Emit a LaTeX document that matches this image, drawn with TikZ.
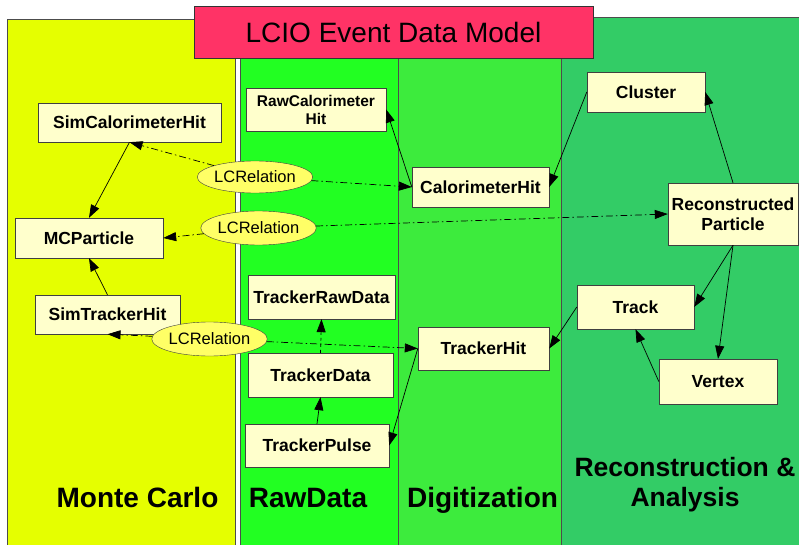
\documentclass[tikz,border=0pt]{standalone}
\usepackage{fontspec}
\setmainfont{Liberation Sans}
\usetikzlibrary{arrows.meta,shapes.geometric}
\definecolor{mcyellow}{HTML}{E5FF00}
\definecolor{rawgreen}{HTML}{22FF22}
\definecolor{digigreen}{HTML}{3DEB3D}
\definecolor{recogreen}{HTML}{33CC66}
\definecolor{titlepink}{HTML}{FF3366}
\definecolor{clsfill}{HTML}{FFFFCC}
\definecolor{relfill}{HTML}{FFFF66}
\begin{document}
\begin{tikzpicture}[x=1pt,y=-1pt,
  cls/.style={draw=black!75, fill=clsfill, inner sep=0pt, align=center,
    font=\fontsize{17.5}{20}\selectfont\bfseries},
  rel/.style={ellipse, draw=black!75, fill=relfill, inner sep=0pt,
    minimum width=93pt, minimum height=34pt, font=\fontsize{16.5}{18}\selectfont},
  arr/.style={-{Triangle[length=13pt,width=9pt]}, line width=0.7pt, black},
  lcr/.style={arr, dash pattern=on 7pt off 3pt on 1.5pt off 3pt},
  area/.style={font=\fontsize{28}{30}\selectfont\bfseries, align=center}
]
\useasboundingbox (0,0) rectangle (799,545);
% the four areas, cut at the bottom of the slide
\begin{scope}
\clip (0,0) rectangle (799,545);
\draw[black!70, fill=mcyellow] (7,19) rectangle (235,560);
\draw[black!70, fill=rawgreen] (240,17) rectangle (398,560);
\draw[black!70, fill=digigreen] (398,17) rectangle (561,560);
\draw[black!70, fill=recogreen] (561,17) rectangle (810,560);
\end{scope}
\node[draw=black!80, fill=titlepink, inner sep=0pt, minimum width=399pt, minimum height=52pt,
  font=\fontsize{28}{30}\selectfont] (title) at (393.5,32) {LCIO Event Data Model};

% Monte Carlo classes
\node[cls, minimum width=183pt, minimum height=39pt] (simcal) at (129.5,122.5) {SimCalorimeterHit};
\node[cls, minimum width=148pt, minimum height=40pt] (mcp) at (89,238) {MCParticle};
\node[cls, minimum width=145pt, minimum height=39pt] (simtrk) at (107.5,314.5) {SimTrackerHit};
% raw data classes
\node[cls, minimum width=140pt, minimum height=43pt, font=\fontsize{15.5}{18}\selectfont\bfseries]
  (rawcal) at (316,109.5) {RawCalorimeter\\Hit};
\node[cls, minimum width=147pt, minimum height=44pt] (trkraw) at (321.5,297) {TrackerRawData};
\node[cls, minimum width=145pt, minimum height=44pt] (trkdata) at (320.5,375) {TrackerData};
\node[cls, minimum width=144pt, minimum height=43pt] (trkpulse) at (317,445.5) {TrackerPulse};
% digitized hits
\node[cls, minimum width=137pt, minimum height=40pt] (calhit) at (480.5,187) {CalorimeterHit};
\node[cls, minimum width=131pt, minimum height=43pt] (trkhit) at (483.5,348.5) {TrackerHit};
% reconstruction classes
\node[cls, minimum width=118pt, minimum height=40pt] (cluster) at (646,92) {Cluster};
\node[cls, minimum width=130pt, minimum height=62pt] (recop) at (733,214) {Reconstructed\\Particle};
\node[cls, minimum width=117pt, minimum height=44pt] (track) at (635.5,307) {Track};
\node[cls, minimum width=118pt, minimum height=45pt] (vertex) at (718,381.5) {Vertex};
% relations
\node[rel, minimum width=94pt, minimum height=32pt] (rel1) at (255,177) {LCRelation};
\node[rel] (rel2) at (258.5,228) {LCRelation};
\node[rel] (rel3) at (209.5,339) {LCRelation};

% plain links
\draw[arr] (simcal.south) -- (mcp.north);
\draw[arr] (simtrk.north) -- (mcp.south);
\draw[arr] (calhit.west) -- (rawcal.east);
\draw[arr] (cluster.west) -- (calhit.east);
\draw[arr] (recop.north) -- (cluster.east);
\draw[arr] (recop.south) -- (track.east);
\draw[arr] (recop.south) -- (vertex.north);
\draw[arr] (vertex.west) -- (track.south);
\draw[arr] (track.west) -- (trkhit.east);
\draw[arr] (trkhit.west) -- (trkpulse.east);
\draw[arr] (trkpulse.north) -- (trkdata.south);
\draw[arr, dashed] (trkdata.north) -- (trkraw.south);
% links through LCRelation
\draw[lcr] (rel1) -- (simcal.south);
\draw[lcr] (rel1) -- (calhit.west);
\draw[lcr] (rel2) -- (mcp.east);
\draw[lcr] (rel2) -- (recop.west);
\draw[lcr] (rel3) -- (simtrk.south);
\draw[lcr] (rel3) -- (trkhit.west);

% area names
\node[area, anchor=base] (mclabel) at (137.5,507) {Monte Carlo};
\node[area, anchor=base] (rawlabel) at (308,507) {RawData};
\node[area, anchor=base] (digilabel) at (482.5,507) {Digitization};
\node[area, font=\fontsize{26.5}{30}\selectfont\bfseries] (recolabel) at (685,485) {Reconstruction \&\\Analysis};
\end{tikzpicture}
\end{document}
